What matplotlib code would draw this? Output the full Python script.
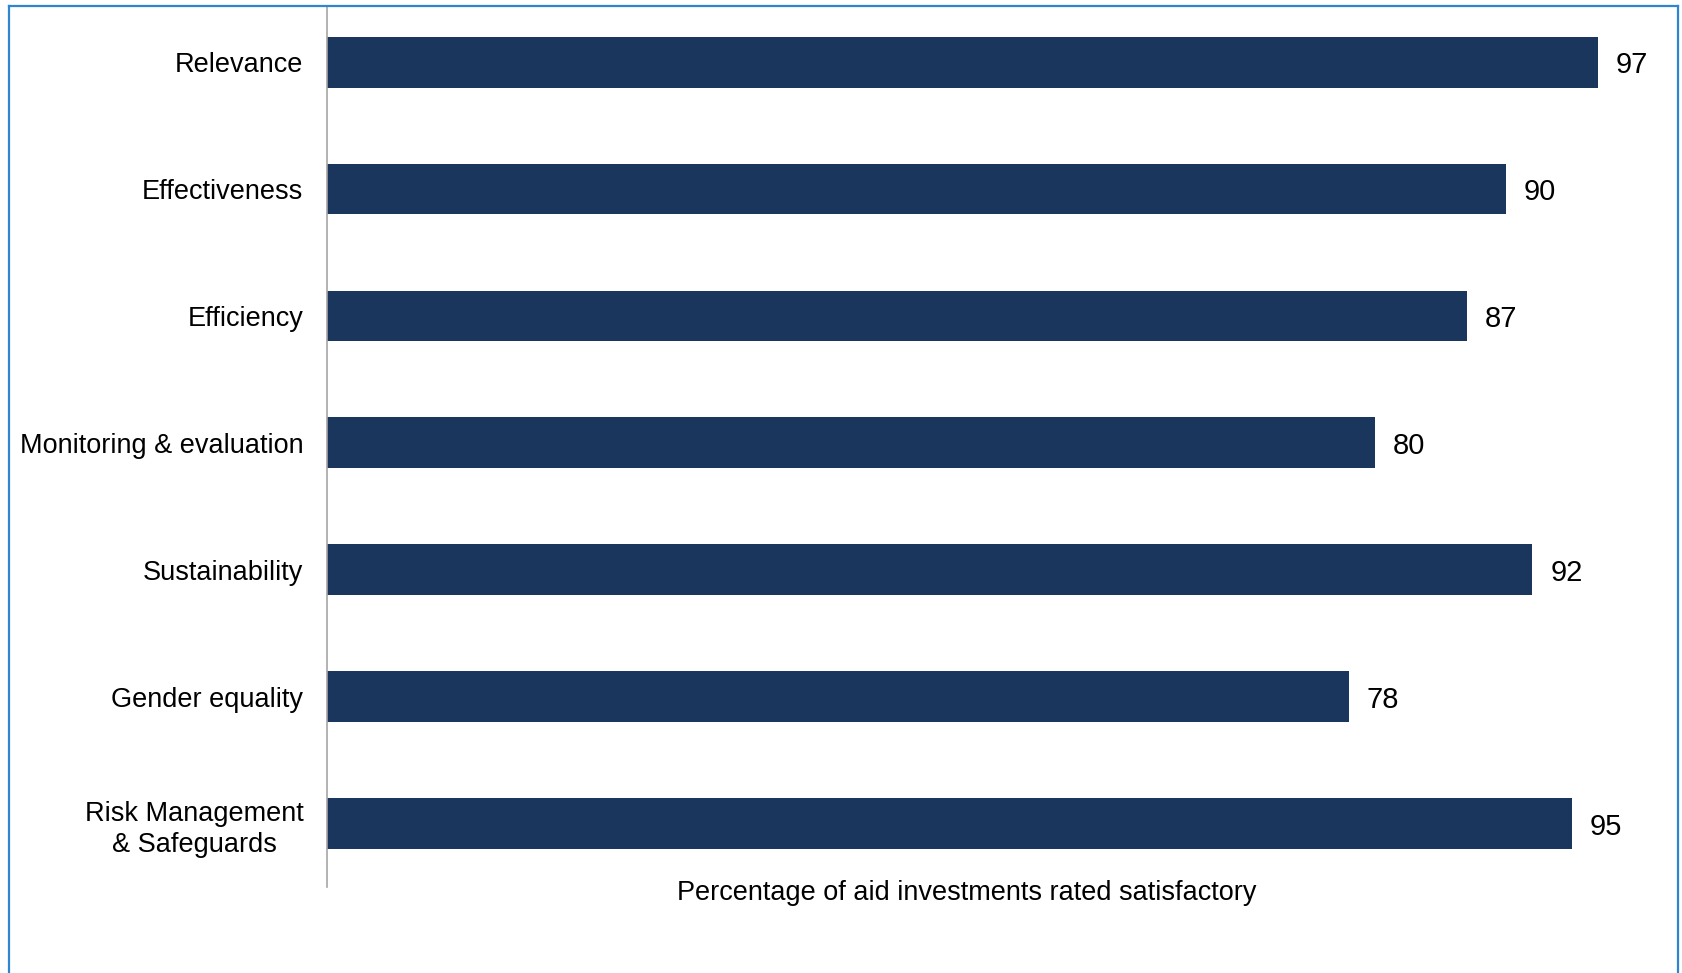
import matplotlib.pyplot as plt
from matplotlib.lines import Line2D

categories = ['Relevance', 'Effectiveness', 'Efficiency', 'Monitoring & evaluation',
              'Sustainability', 'Gender equality', 'Risk Management\n& Safeguards']
values = [97, 90, 87, 80, 92, 78, 95]

W, H = 1682, 973
fig = plt.figure(figsize=(W / 100, H / 100), dpi=100)
plt.rcParams['font.family'] = ['Liberation Sans', 'DejaVu Sans']

# axes placed in pixel terms: y axis at x=327, bars run to x=1637 at 100
ax = fig.add_axes([327 / W, 86 / H, 1310 / W, 880 / H])
ypos = list(range(len(categories)))
ax.barh(ypos, values, height=0.4, color='#1B365D')
ax.set_xlim(0, 100)
ax.set_ylim(6.5, -0.435)

ax.set_yticks(ypos)
ax.set_yticklabels(categories, fontsize=19.5, color='black',
                   multialignment='center', linespacing=1.25)
ax.tick_params(axis='y', length=0, pad=17)
ax.set_xticks([])
for s in ['top', 'right', 'bottom']:
    ax.spines[s].set_visible(False)
ax.spines['left'].set_color('#A6A6A6')
ax.spines['left'].set_linewidth(1.2)

for y, v in zip(ypos, values):
    ax.annotate(str(v), xy=(v, y), xytext=(13, 0), textcoords='offset points',
                va='center_baseline', ha='left', fontsize=21, color='black')

fig.text(967 / W, 1 - 893 / H, 'Percentage of aid investments rated satisfactory',
         ha='center', va='center', fontsize=19.5)

# blue frame: left, top and right edges
frame = dict(color='#2E86D1', linewidth=1.6, transform=fig.transFigure)
x0, x1, yt = 9 / W, 1678 / W, 1 - 6 / H
fig.add_artist(Line2D([x0, x0], [0, yt], **frame))
fig.add_artist(Line2D([x0, x1], [yt, yt], **frame))
fig.add_artist(Line2D([x1, x1], [yt, 0], **frame))

fig.savefig('out.png', dpi=100, facecolor='white')
